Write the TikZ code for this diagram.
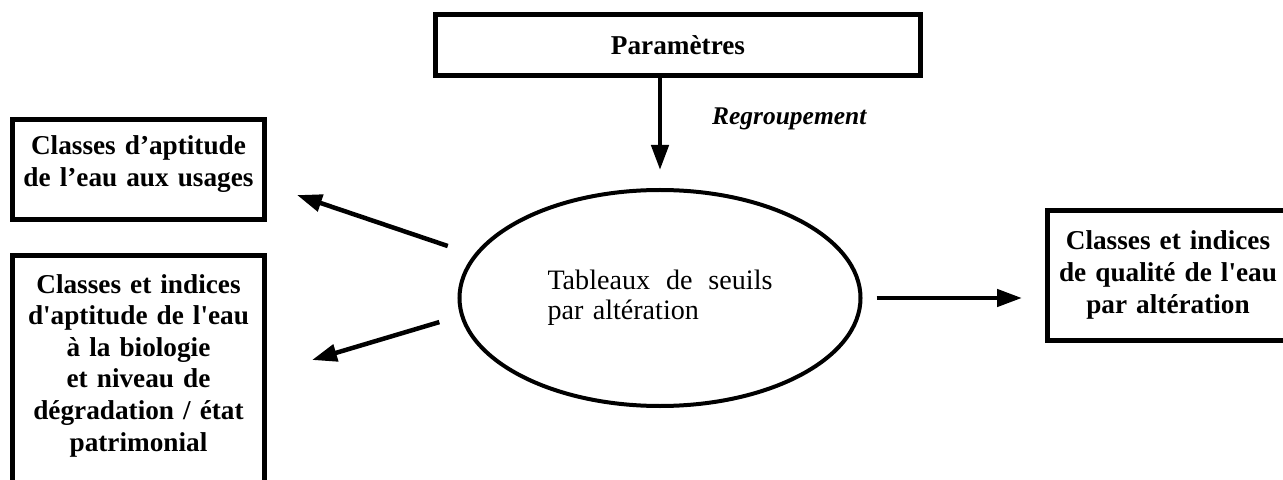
\documentclass[tikz,border=0pt]{standalone}
\usepackage{fontspec}
\newfontfamily\boxfont[Ligatures=TeXOff]{Liberation Serif}
\usetikzlibrary{shapes.geometric,arrows.meta}

\begin{document}
\begin{tikzpicture}[
  x=0.2mm, y=-0.2mm,
  box/.style={draw, line width=1mm, inner sep=0pt, outer sep=0pt, align=center,
    font=\fontsize{15.5}{18}\selectfont\boxfont\bfseries},
  seuil/.style={draw, ellipse, line width=0.8mm, minimum width=80.2mm, minimum height=43.2mm,
    inner sep=0pt, outer sep=0pt, text width=45mm, align=left,
    font=\fontsize{16}{17}\selectfont\boxfont},
  arr/.style={line width=0.9mm, -{Triangle[length=5mm,width=3.4mm]}},
  lab/.style={font=\fontsize{14.5}{17}\selectfont\boxfont\bfseries\itshape}
]
\useasboundingbox (0,0) rectangle (1283,480);

\node[box, minimum width=97mm, minimum height=12.2mm] (param) at (678,45) {Paramètres};
\node[seuil] (seuils) at (660,298) {Tableaux\hfill de\hfill seuils\\par altération};

\node[box, anchor=north west, text width=50.4mm, text height=7.1mm, text depth=12.9mm] (usages) at (12.5,119.5)
  {Classes d’aptitude\\de l’eau aux usages};
\node[box, anchor=north west, text width=50.4mm, text height=7.5mm, text depth=47.6mm] (bio) at (12.5,255.5)
  {Classes et indices\\d'aptitude de l'eau\\à la biologie\\et niveau de\\dégradation / état\\patrimonial};
\node[box, anchor=north west, text width=48.2mm, text height=7.9mm, text depth=18.1mm] (qual) at (1047.5,210.5)
  {Classes et indices\\de qualité de l'eau\\par altération};

\draw[arr, shorten >=4mm] (seuils.north |- param.south) -- (seuils.north)
  node[pos=0.38, anchor=west, xshift=8.8mm, lab] {Regroupement};
\draw[arr, shorten <=3.2mm, shorten >=5.1mm] (seuils.east) -- (seuils.east -| qual.west);
\draw[arr, shorten <=5.9mm] (seuils.167) -- ++(-178.7,-60.4) coordinate (usagesTip);
\draw[arr, shorten <=4.75mm] (seuils.185) -- ++(-150.1,44.7) coordinate (bioTip);
\end{tikzpicture}
\end{document}
